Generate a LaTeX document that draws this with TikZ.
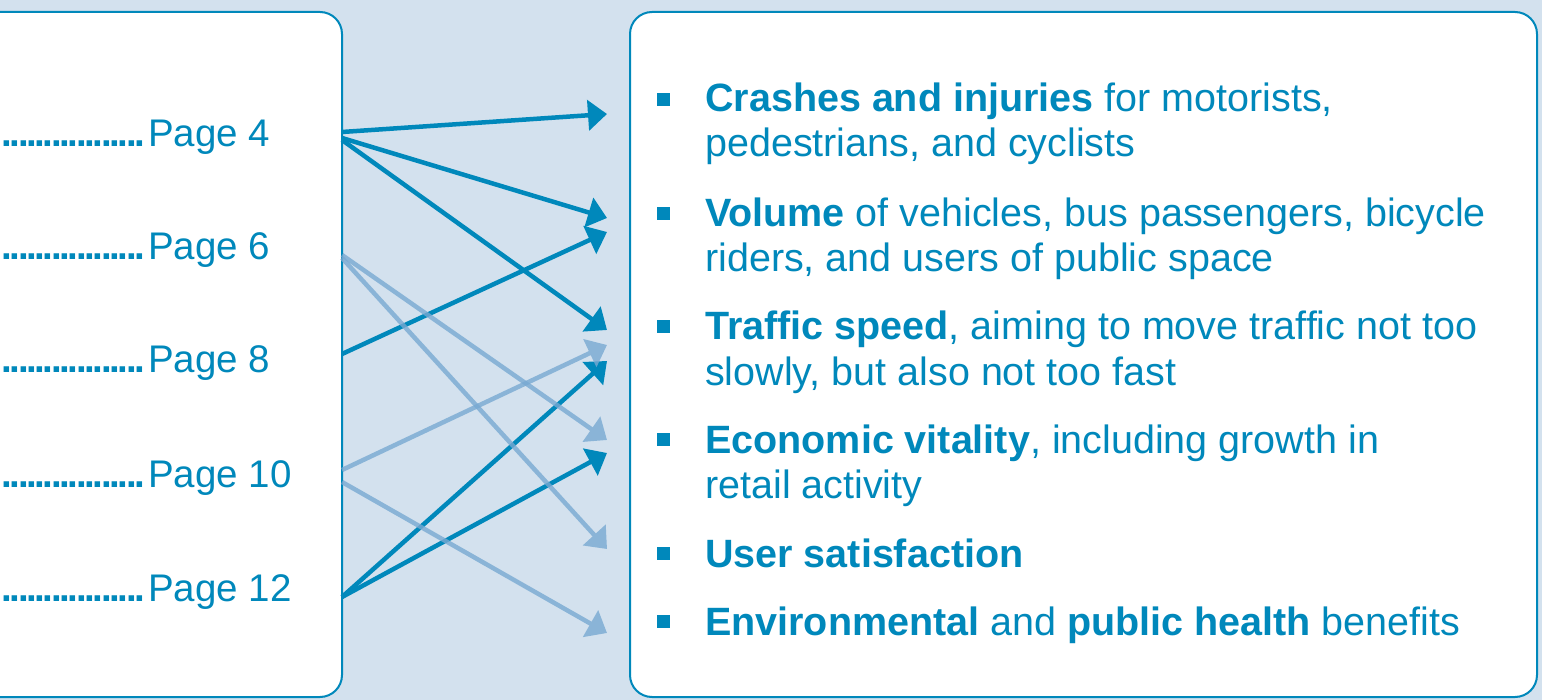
\documentclass[tikz,border=0pt]{standalone}
\usepackage{fontspec}
\setmainfont{Liberation Sans}
\usetikzlibrary{arrows.meta}
\definecolor{bgblue}{RGB}{211,225,238}
\definecolor{ink}{RGB}{0,136,187}
\definecolor{lite}{RGB}{120,169,210}
\newcommand\leaderdots{\hbox to 146pt{\cleaders\hbox to 8.3pt{\hss\textbf{.}\hss}\hfill}\kern2pt}
\begin{document}
\begin{tikzpicture}[x=1pt,y=-1pt,
  txt/.style={anchor=base west, inner sep=0pt, text=ink, font=\fontsize{39.5}{45}\selectfont},
  pg/.style={anchor=base west, inner sep=0pt, text=ink, font=\fontsize{38.5}{45}\selectfont},
  bul/.style={fill=ink, minimum size=13pt, inner sep=0pt},
  panel/.style={draw=ink, line width=2pt, fill=white, rounded corners=22pt},
  darr/.style={draw=ink, line width=4.5pt, -{Triangle[length=19pt,width=30pt]}},
  larr/.style={draw=lite, line width=4.5pt, -{Triangle[length=19pt,width=30pt]}},
  lgrp/.style={transparency group, opacity=0.8}]
\fill[bgblue] (0,0) rectangle (1542,700);
\useasboundingbox (0,0) rectangle (1542,700);
\begin{scope}
\clip (0,0) rectangle (1542,700);
\path[panel] (-40,12) rectangle (342,697);
\path[panel] (630,12) rectangle (1537,697);
\end{scope}
% left page list
\node[pg] (p4)  at (0,147) {\leaderdots Page 4};
\node[pg] (p6)  at (0,260) {\leaderdots Page 6};
\node[pg] (p8)  at (0,373) {\leaderdots Page 8};
\node[pg] (p10) at (0,487) {\leaderdots Page 10};
\node[pg] (p12) at (0,601) {\leaderdots Page 12};
% right list
\node[bul] (b1) at (663.5,99.5) {};
\node[txt] (t1a) at (705,112) {\textbf{Crashes and injuries} for motorists,};
\node[txt] (t1b) at (705,157) {pedestrians, and cyclists};
\node[bul] (b2) at (663.5,213.5) {};
\node[txt] (t2a) at (705,227) {\textbf{Volume} of vehicles, bus passengers, bicycle};
\node[txt] (t2b) at (705,272) {riders, and users of public space};
\node[bul] (b3) at (663.5,326.5) {};
\node[txt] (t3a) at (705,340) {\textbf{Traffic speed}, aiming to move traffic not too};
\node[txt] (t3b) at (705,385) {slowly, but also not too fast};
\node[bul] (b4) at (663.5,439.5) {};
\node[txt] (t4a) at (705,453) {\textbf{Economic vitality}, including growth in};
\node[txt] (t4b) at (705,498) {retail activity};
\node[bul] (b5) at (663.5,553.5) {};
\node[txt] (t5a) at (705,567) {\textbf{User satisfaction}};
\node[bul] (b6) at (663.5,621.5) {};
\node[txt] (t6a) at (705,635) {\textbf{Environmental} and \textbf{public health} benefits};
% connector endpoints
\coordinate (s4a) at (342,132);
\coordinate (s4b) at (342,138);
\coordinate (s4c) at (342,140);
\coordinate (s6a) at (342,255);
\coordinate (s6b) at (342,258);
\coordinate (s8)  at (342,354);
\coordinate (s10a) at (342,470);
\coordinate (s10b) at (342,482);
\coordinate (s12) at (342,597);
\coordinate (e1)  at (607,114);
\coordinate (e2a) at (607,218);
\coordinate (e2b) at (607,232);
\coordinate (e3a) at (607,330);
\coordinate (e3b) at (607,345);
\coordinate (e3c) at (607,361);
\coordinate (e4a) at (607,440);
\coordinate (e4b) at (607,453);
\coordinate (e5)  at (607,549);
\coordinate (e6)  at (607,633);
% dark connectors
\draw[darr] (s4a) -- (e1);
\draw[darr] (s4b) -- (e2a);
\draw[darr] (s4c) -- (e3a);
\draw[darr] (s8) -- (e2b);
\draw[darr] (s12) -- (e3c);
\draw[darr] (s12) -- (e4b);
% light connectors
\begin{scope}[lgrp]\draw[larr] (s6a) -- (e4a);\end{scope}
\begin{scope}[lgrp]\draw[larr] (s6b) -- (e5);\end{scope}
\begin{scope}[lgrp]\draw[larr] (s10a) -- (e3b);\end{scope}
\begin{scope}[lgrp]\draw[larr] (s10b) -- (e6);\end{scope}
\end{tikzpicture}
\end{document}
